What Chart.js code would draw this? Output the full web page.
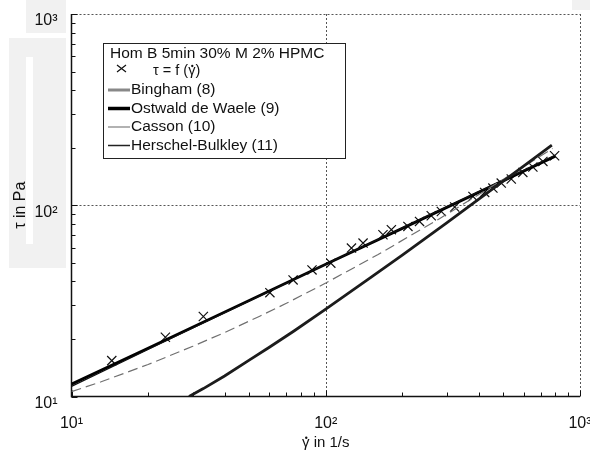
<!DOCTYPE html>
<html>
<head>
<meta charset="utf-8">
<script src="https://cdn.jsdelivr.net/npm/chart.js@4.4.1/dist/chart.umd.min.js"></script>
<style>
  html, body { margin: 0; padding: 0; background: #fff; }
  canvas { display: block; }
</style>
</head>
<body>
<canvas id="flowChart" width="590" height="453"></canvas>
<script>
// measured flow curve, shear rate in 1/s and shear stress in Pa
var shearRate = [14.4, 23.4, 33.0, 60.3, 74.4, 88.3, 104.7, 126.2, 140.2, 167.9, 181.2, 210.5, 233.8,
  260.0, 284.9, 321.4, 379.3, 421.7, 454.4, 490.0, 536.6, 595.8, 652.6, 714.6, 794.5];
var shearStress = [15.4, 20.4, 26.2, 34.9, 40.7, 45.9, 49.8, 59.7, 63.4, 70.1, 74.5, 77.5, 82.3,
  88.1, 92.8, 97.9, 111.2, 116.7, 123.0, 130.6, 137.1, 148.5, 158.5, 169.5, 181.5];

// model curves
var binghamRate = [29, 33, 40, 50, 60, 75, 100, 150, 200, 300, 400, 600, 775];
var binghamStress = [10.0, 11.0, 12.8, 15.5, 18.1, 22.0, 28.6, 41.8, 54.9, 81.2, 107.5, 160, 206];
var ostwaldRate = [10, 20, 50, 100, 200, 500, 800];
var ostwaldStress = [11.6, 17.9, 31.8, 49.1, 75.7, 134.5, 180.5];
var cassonRate = [10, 13, 20, 30, 40, 55, 70, 100, 160, 280, 480, 780];
var cassonStress = [10.6, 11.9, 14.7, 18.3, 21.6, 26.3, 30.7, 39.2, 55.1, 85.0, 132.2, 198];
var hbRate = [10, 20, 50, 100, 200, 500, 800];
var hbStress = [11.3, 17.6, 31.6, 49.1, 76.0, 135.5, 183];

var tickValues = [10, 20, 30, 40, 50, 60, 70, 80, 90, 100, 200, 300, 400, 500, 600, 700, 800, 900, 1000];
var tickLabels = { 10: '10\u00B9', 100: '10\u00B2', 1000: '10\u00B3' };
var gridValues = [100, 1000];

var FONT = '"Liberation Sans", Arial, sans-serif';

function toPoints(xs, ys) {
  return xs.map(function (x, i) { return { x: x, y: ys[i] }; });
}

// writes "γ" with a dot above it, followed by the rest of the text
function gammaDot(ctx, before, after, x, y, size) {
  ctx.fillText(before, x, y);
  var gx = x + ctx.measureText(before).width;
  ctx.fillText('\u03B3', gx, y);
  var gw = ctx.measureText('\u03B3').width;
  ctx.beginPath();
  ctx.arc(gx + gw / 2 + 0.5, y - size * 0.62, size * 0.08, 0, Math.PI * 2);
  ctx.fill();
  ctx.fillText(after, gx + gw, y);
}

// light watermark behind the plot
var backdrop = {
  id: 'backdrop',
  beforeDraw: function (chart) {
    var ctx = chart.ctx;
    ctx.save();
    ctx.fillStyle = '#fff';
    ctx.fillRect(0, 0, chart.width, chart.height);
    ctx.fillStyle = '#f1f1f1';
    ctx.fillRect(26, 0, 40, 33);
    ctx.fillRect(9, 38, 57, 230);
    ctx.fillRect(572, 0, 18, 10);
    ctx.fillStyle = '#fff';
    ctx.fillRect(26, 57, 7, 187);
    ctx.restore();
  }
};

// dotted decade grid, solid axes, inward ticks and the x title
var frame = {
  id: 'frame',
  beforeDatasetsDraw: function (chart) {
    var ctx = chart.ctx, area = chart.chartArea;
    var xs = chart.scales.x, ys = chart.scales.y;
    ctx.save();
    ctx.strokeStyle = '#555';
    ctx.lineWidth = 1;
    ctx.setLineDash([2, 2]);
    gridValues.forEach(function (v) {
      var px = Math.round(xs.getPixelForValue(v)) + 0.5;
      ctx.beginPath(); ctx.moveTo(px, area.top); ctx.lineTo(px, area.bottom); ctx.stroke();
      var py = Math.round(ys.getPixelForValue(v)) + 0.5;
      ctx.beginPath(); ctx.moveTo(area.left, py); ctx.lineTo(area.right, py); ctx.stroke();
    });
    ctx.setLineDash([]);
    ctx.strokeStyle = '#111';
    ctx.lineWidth = 1.5;
    ctx.beginPath();
    ctx.moveTo(area.left, area.top);
    ctx.lineTo(area.left, area.bottom);
    ctx.lineTo(area.right, area.bottom);
    ctx.stroke();
    ctx.lineWidth = 1;
    tickValues.forEach(function (v) {
      var len = tickLabels[v] ? 6 : 4;
      var px = Math.round(xs.getPixelForValue(v)) + 0.5;
      ctx.beginPath(); ctx.moveTo(px, area.bottom); ctx.lineTo(px, area.bottom - len); ctx.stroke();
      var py = Math.round(ys.getPixelForValue(v)) + 0.5;
      ctx.beginPath(); ctx.moveTo(area.left, py); ctx.lineTo(area.left + len, py); ctx.stroke();
    });

    ctx.fillStyle = '#111';
    ctx.textBaseline = 'alphabetic';
    ctx.font = '15px ' + FONT;
    gammaDot(ctx, '', ' in 1/s', 302, 447, 15);
    ctx.restore();
  }
};

// boxed legend in the upper left of the plot
var legendBox = {
  id: 'legendBox',
  afterDraw: function (chart) {
    var ctx = chart.ctx;
    ctx.save();
    ctx.fillStyle = '#fff';
    ctx.fillRect(103, 43, 242, 115);
    ctx.strokeStyle = '#222';
    ctx.lineWidth = 1;
    ctx.strokeRect(103.5, 43.5, 242, 115);

    ctx.fillStyle = '#111';
    ctx.textBaseline = 'middle';
    ctx.font = '15.5px ' + FONT;
    ctx.fillText('Hom B 5min 30% M 2% HPMC', 110, 54);

    ctx.strokeStyle = '#111';
    ctx.lineWidth = 1.2;
    ctx.beginPath();
    ctx.moveTo(117, 65); ctx.lineTo(126, 72);
    ctx.moveTo(126, 65); ctx.lineTo(117, 72);
    ctx.stroke();
    ctx.font = '14.5px ' + FONT;
    ctx.textBaseline = 'alphabetic';
    gammaDot(ctx, '\u03C4 = f (', ')', 153, 75, 14.5);
    ctx.textBaseline = 'middle';

    var rows = [
      { text: 'Bingham (8)', color: '#888', width: 3, y: 90 },
      { text: 'Ostwald de Waele (9)', color: '#000', width: 3.5, y: 108.5 },
      { text: 'Casson (10)', color: '#999', width: 1.5, y: 127 },
      { text: 'Herschel-Bulkley (11)', color: '#222', width: 1.5, y: 145.5 }
    ];
    ctx.font = '15.5px ' + FONT;
    rows.forEach(function (r) {
      ctx.strokeStyle = r.color;
      ctx.lineWidth = r.width;
      ctx.beginPath(); ctx.moveTo(108, r.y); ctx.lineTo(130, r.y); ctx.stroke();
      ctx.fillText(r.text, 131, r.y);
    });
    ctx.restore();
  }
};

var flowCtx = document.getElementById('flowChart').getContext('2d');
var flowChart = new Chart(flowCtx, {
  type: 'scatter',
  data: {
    datasets: [{
      label: 'Bingham (8)',
      data: toPoints(binghamRate, binghamStress),
      showLine: true,
      borderColor: '#1c1c1c',
      borderWidth: 2.8,
      pointRadius: 0
    },
    {
      label: 'Casson (10)',
      data: toPoints(cassonRate, cassonStress),
      showLine: true,
      borderColor: '#707070',
      borderWidth: 1.2,
      borderDash: [10, 5],
      pointRadius: 0
    },
    {
      label: 'Herschel-Bulkley (11)',
      data: toPoints(hbRate, hbStress),
      showLine: true,
      borderColor: '#111',
      borderWidth: 1.2,
      pointRadius: 0
    },
    {
      label: 'Ostwald de Waele (9)',
      data: toPoints(ostwaldRate, ostwaldStress),
      showLine: true,
      borderColor: '#000',
      borderWidth: 2.8,
      pointRadius: 0
    },
    {
      label: '\u03C4 = f (\u03B3\u0307)',
      data: toPoints(shearRate, shearStress),
      showLine: false,
      pointStyle: 'crossRot',
      pointRadius: 6.5,
      borderColor: '#111',
      borderWidth: 1.2
    }]
  },
  options: {
    responsive: false,
    animation: false,
    devicePixelRatio: 1,
    layout: { padding: { top: 14, right: 10, left: 0, bottom: 0 } },
    plugins: {
      legend: { display: false },
      tooltip: { enabled: false }
    },
    scales: {
      x: {
        type: 'logarithmic',
        min: 10,
        max: 1000,
        afterBuildTicks: function (scale) {
          scale.ticks = tickValues.map(function (v) { return { value: v }; });
        },
        afterFit: function (scale) {
          scale.height = 56.5;
          scale.paddingLeft = 0;
          scale.paddingRight = 0;
        },
        grid: { display: false, drawTicks: false },
        border: { display: false },
        ticks: {
          autoSkip: false,
          maxRotation: 0,
          padding: 17,
          color: '#111',
          font: { family: FONT, size: 16 },
          callback: function (v) { return tickLabels[v] || ''; }
        }
      },
      y: {
        type: 'logarithmic',
        min: 10,
        max: 1000,
        afterBuildTicks: function (scale) {
          scale.ticks = tickValues.map(function (v) { return { value: v }; });
        },
        afterFit: function (scale) {
          scale.width = 71.5;
          scale.paddingTop = 0;
          scale.paddingBottom = 0;
        },
        grid: { display: false, drawTicks: false },
        border: { display: false },
        ticks: {
          autoSkip: false,
          padding: 14,
          labelOffset: 7,
          color: '#111',
          font: { family: FONT, size: 16 },
          callback: function (v) { return tickLabels[v] || ''; }
        },
        title: {
          display: true,
          text: '\u03C4 in Pa',
          color: '#111',
          padding: { top: 11, bottom: 0 },
          font: { family: FONT, size: 16 }
        }
      }
    }
  },
  plugins: [backdrop, frame, legendBox]
});
</script>
</body>
</html>
